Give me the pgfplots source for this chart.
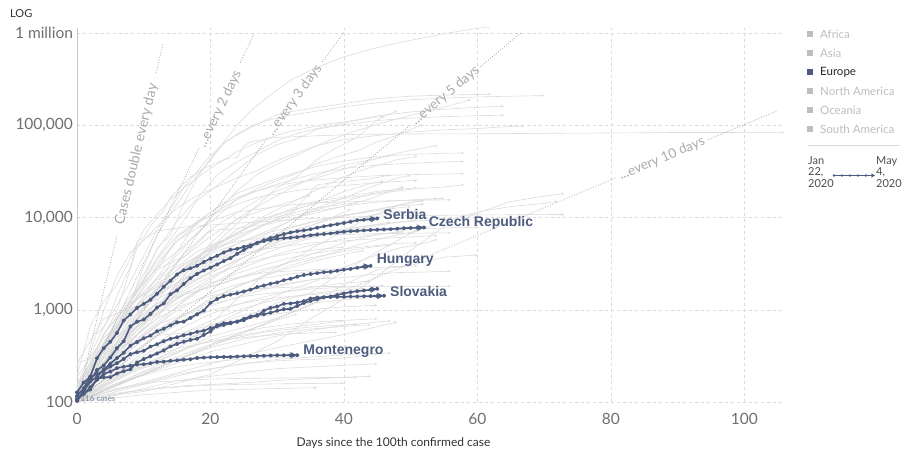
\documentclass[border=0pt]{standalone}
\usepackage{fontspec}
\setmainfont{Lato}
\newfontfamily\arialf{Liberation Sans}
\usepackage{pgfplots}
\pgfplotsset{compat=1.18}
\usetikzlibrary{arrows.meta}
\definecolor{eur}{RGB}{76,91,126}
\definecolor{gline}{RGB}{220,220,220}
\definecolor{gridc}{RGB}{218,218,218}
\definecolor{tickc}{RGB}{110,110,110}
\definecolor{dbl}{RGB}{170,170,170}
\definecolor{legc}{RGB}{190,190,190}
\pgfplotsset{
  gl/.style={gline, line width=0.6pt, no markers, line join=round, -{Stealth[length=3pt,width=2.6pt]}},
  hl/.style={eur, line width=1.6pt, mark=*, mark size=1.3pt, mark options={solid,fill=eur,draw=eur}, line join=round, -{Stealth[length=7pt,width=6.5pt]}},
  dl/.style={dbl, line width=0.7pt, dash pattern=on 1pt off 1.6pt, no markers},
}
\begin{document}
\begin{tikzpicture}
\useasboundingbox (0,0) rectangle (906pt,-452pt);
\begin{axis}[
  at={(77pt,-402pt)}, anchor=south west,
  scale only axis, width=708pt, height=374pt,
  ymode=log, xmin=0, xmax=106.1, ymin=100, ymax=1.14e6,
  axis line style={draw=none}, tick style={draw=none},
  xtick={0,20,40,60,80,100}, xticklabels={0,20,40,60,80,100},
  ytick={100,1000,10000,100000,1000000},
  yticklabels={100,{1,000},{10,000},{100,000},1 million},
  grid=major, major grid style={gridc, dash pattern=on 3pt off 3pt, line width=0.6pt},
  ticklabel style={font=\fontsize{15.5}{18}\selectfont, text=tickc},
  xticklabel style={yshift=-8pt},
  yticklabel style={xshift=-0.5pt},
]
\draw[gridc!80!gray, line width=0.8pt] (rel axis cs:0,0) -- (rel axis cs:0,1);
% ---------------- grey lines (other countries) ----------------
\addplot[gl] coordinates {(0,118)(2,213)(4,435)(6,704)(8,1281)(10,2179)(12,4663)(14,6421)(16,14250)(18,26800)(20,43734)(22,65778)(24,101657)(26,143055)(28,188172)(30,243453)(32,308850)(35,396223)(38,488000)(40,555313)(45,699706)(50,839675)(55,988197)(60,1131030)(62,1180375)};
\addplot[gl] coordinates {(0,120)(2,228)(4,374)(6,589)(8,1204)(10,2950)(12,6391)(14,11178)(16,17963)(18,28572)(20,42058)(22,64059)(24,78797)(26,94417)(28,112065)(30,130759)(32,140510)(35,152446)(40,172541)(45,195944)(50,207634)(55,213435)(60,216582)(62,218011)};
\addplot[gl] coordinates {(0,155)(2,322)(4,650)(6,1128)(8,2036)(10,3858)(12,7375)(14,12462)(16,21157)(18,31506)(20,47021)(22,63927)(24,80589)(26,97689)(28,110574)(30,119827)(32,128948)(35,139422)(40,159516)(45,175925)(50,189973)(55,197675)(60,203591)(65,207428)(70,210717)};
\addplot[gl] coordinates {(0,100)(3,212)(6,653)(9,1784)(12,4469)(15,9134)(18,16018)(21,29155)(24,40174)(27,52128)(30,68605)(33,82165)(36,92839)(40,106206)(45,127000)(50,140000)(55,150000)(60,157000)(64,162000)};
\addplot[gl] coordinates {(0,130)(3,262)(6,795)(9,1567)(12,3675)(15,7272)(18,15320)(21,22213)(24,32986)(27,48582)(30,61913)(33,71808)(36,91159)(40,102000)(45,113000)(50,120000)(55,124500)(60,127500)(64,129000)};
\addplot[gl] coordinates {(0,116)(3,206)(6,456)(9,1144)(12,1950)(15,3983)(18,6650)(21,11658)(24,19522)(27,29474)(30,38168)(33,47806)(36,60733)(40,78991)(45,103093)(50,129044)(55,158000)(59,190000)};
\addplot[gl] coordinates {(0,139)(3,388)(6,978)(9,4747)(12,8042)(15,12729)(18,17361)(21,21638)(24,27017)(27,32332)(30,41495)(33,50468)(36,60500)(40,70029)(45,77995)(50,84802)(55,89328)(60,92584)(64,96448)(67,98647)};
\addplot[gl] coordinates {(3,548)(4,643)(5,920)(6,1406)(7,2075)(8,2877)(9,5509)(10,6087)(11,8141)(12,9802)(13,11891)(14,16630)(15,19716)(16,23707)(17,27440)(18,30587)(19,34110)(20,36814)(21,39829)(22,42354)(23,44386)(24,44759)(25,59895)(26,66358)(27,68413)(28,70513)(30,74185)(32,75077)(37,77780)(42,79968)(51,80778)(61,81250)(72,82279)(82,82941)(89,83760)(102,83956)(106,83966)};
\addplot[gl] coordinates {(0,191)(2,670)(4,1236)(6,1872)(8,3629)(10,7402)(12,10827)(14,15679)(16,20921)(18,27069)(20,34109)(22,42282)(24,52167)(26,61049)(28,69392)(30,78546)(32,86306)(35,95591)(38,104912)(40,109302)(43,117589)(46,126045)};
\addplot[gl] coordinates {(0,114)(3,199)(6,367)(9,658)(12,1264)(15,2337)(18,3548)(21,5389)(24,8672)(27,13584)(30,21102)(33,27938)(36,42853)(39,57999)(42,74588)(45,114431)(48,145268)};
\addplot[gl] coordinates {(0,151)(3,291)(6,621)(9,1546)(12,2915)(15,4256)(18,6836)(21,10278)(24,15927)(27,20727)(30,25262)(33,30425)(36,38654)(39,45757)(42,52995)(45,66501)(48,78162)(51,97100)(52,101147)};
\addplot[gl] coordinates {(0,108)(4,252)(8,598)(12,1739)(16,4043)(20,7398)(24,11284)(28,17063)(32,22148)(36,27063)(40,33383)(44,41650)(48,50026)(52,57148)(54,60504)};
\addplot[gl] coordinates {(0,109)(3,267)(6,559)(9,1085)(12,2257)(15,4269)(18,9134)(21,12775)(24,18431)(27,22194)(30,26667)(33,31119)(36,36138)(40,40956)(45,46134)(50,48519)(55,49906)(58,50267)};
\addplot[gl] coordinates {(0,128)(3,265)(6,614)(9,1413)(12,2994)(15,5560)(18,8603)(21,11750)(24,15723)(27,19580)(30,23097)(33,26551)(36,30449)(40,34134)(45,37190)(50,38802)(55,40236)(58,40571)};
\addplot[gl] coordinates {(0,116)(3,337)(6,652)(9,1359)(12,2650)(15,6113)(18,8795)(21,12928)(24,16605)(27,19606)(30,22242)(33,24308)(36,25688)(40,27078)(45,28496)(50,29264)(55,29705)(58,30009)};
\addplot[gl] coordinates {(0,112)(3,331)(6,785)(9,1600)(12,3544)(15,6408)(18,9034)(21,11278)(24,13956)(27,16585)(30,18091)(33,19685)(36,20863)(40,22353)(45,23864)(50,25190)(51,25351)};
\addplot[gl] coordinates {(0,137)(3,326)(6,687)(9,1121)(12,1623)(15,2510)(18,3700)(21,4947)(24,6830)(27,9141)(30,10948)(33,12540)(36,14385)(40,16004)(45,18177)(50,20302)(55,21520)(58,22721)};
\addplot[gl] coordinates {(0,129)(3,292)(6,683)(9,1329)(12,2121)(15,2910)(18,4273)(21,5364)(24,6574)(27,8928)(30,10647)(33,13271)(36,15251)(40,16671)(45,19262)(50,20833)(51,21176)};
\addplot[gl] coordinates {(0,104)(3,246)(6,800)(9,1646)(12,3244)(15,5588)(18,7697)(21,9618)(24,11524)(27,12297)(30,13244)(33,13945)(36,14476)(40,14795)(45,15148)(50,15402)(56,15597)};
\addplot[gl] coordinates {(0,105)(5,170)(10,268)(15,455)(20,581)(25,814)(30,1193)(35,1532)(40,2617)(45,4257)(50,6748)(55,9167)(60,11512)(65,13182)(70,14281)(72,15057)};
\addplot[gl] coordinates {(0,104)(2,346)(4,977)(6,2337)(8,4212)(10,5766)(12,7134)(14,7513)(16,7869)(18,8162)(20,8320)(25,8799)(30,9241)(35,9786)(40,10062)(45,10384)(50,10512)(55,10613)(60,10683)(65,10738)(70,10793)(73,10806)};
\addplot[gl] coordinates {(0,100)(4,223)(8,499)(12,1024)(16,2069)(20,4421)(24,7447)(28,10363)(32,14378)(36,20080)(40,27892)(44,35043)(48,42533)(51,46437)};
\addplot[gl] coordinates {(0,117)(4,318)(8,635)(12,1065)(16,2281)(20,5256)(24,9784)(28,14420)(32,20914)(36,28699)(40,36976)(44,42534)(47,47372)};
\addplot[gl] coordinates {(0,118)(4,316)(8,993)(12,1688)(16,2785)(20,4219)(24,5847)(28,8261)(32,11633)(36,14677)(40,19224)(44,23471)(46,24905)};
\addplot[gl] coordinates {(0,103)(4,238)(8,562)(12,1012)(16,1720)(20,2605)(24,4462)(28,6380)(32,9362)(36,12772)(40,16299)(44,21402)(48,27011)(50,28656)};
\addplot[gl] coordinates {(0,187)(4,501)(8,887)(12,1526)(16,2708)(20,4035)(24,5230)(28,6919)(32,9216)(36,12227)(40,14885)(44,17986)(49,20941)};
\addplot[gl] coordinates {(0,155)(4,434)(8,1142)(12,1909)(16,3031)(20,4815)(24,6501)(28,8273)(32,9730)(36,11296)(40,13331)(44,16023)(48,20643)(49,22016)};
\addplot[gl] coordinates {(0,111)(4,532)(8,1403)(12,2758)(16,3747)(20,7257)(24,7603)(28,8450)(32,10850)(36,22719)(40,24675)(44,26336)(47,29071)};
\addplot[gl] coordinates {(0,152)(4,351)(8,1066)(12,2226)(16,3728)(20,6264)(24,9590)(28,12208)(32,14917)(35,17489)};
\addplot[gl] coordinates {(0,262)(4,337)(8,439)(12,526)(16,562)(20,693)(24,1325)(28,2376)(32,3428)(36,5008)(40,7141)(44,10287)(48,13409)(52,15551)(54,16191)};
\addplot[gl] coordinates {(0,102)(5,117)(10,130)(15,160)(20,200)(25,300)(30,455)(35,802)(40,1309)(45,2299)(50,4427)(55,8014)(60,11178)(65,14951)(70,17101)(73,18200)};
\addplot[gl] coordinates {(0,109)(4,193)(8,427)(12,1071)(16,2369)(20,4347)(24,6092)(28,8430)(32,10408)(36,11868)(40,13265)(44,14498)(48,15298)(52,15834)(55,16193)};
\addplot[gl] coordinates {(0,131)(4,260)(8,576)(12,1029)(16,2109)(20,3183)(24,4417)(28,5990)(32,7707)(36,9242)(40,10635)(44,11616)(48,12732)(50,13163)};
\addplot[gl] coordinates {(0,104)(4,251)(8,749)(12,1389)(16,2554)(20,3627)(24,5205)(28,6674)(32,7918)(36,9287)(40,10511)(44,11902)(48,13375)(52,14006)};
\addplot[gl] coordinates {(0,264)(4,801)(8,1044)(12,1303)(16,1877)(20,2577)(24,3386)(28,4875)(32,5996)(36,6876)(40,7515)(44,8210)(48,8851)(52,9311)(56,9670)};
\addplot[gl] coordinates {(0,108)(4,400)(8,996)(12,1423)(16,2132)(20,2906)(24,4015)(28,5370)(32,5865)(36,6320)(40,6740)(44,7156)(48,7401)(52,7599)(56,7759)(60,7847)};
\addplot[gl] coordinates {(0,155)(4,272)(8,450)(12,880)(16,1313)(20,1882)(24,2487)(28,3064)(32,3681)(36,4129)(40,4576)(44,4906)(48,5254)(51,5327)};
\addplot[gl] coordinates {(0,113)(4,311)(8,794)(12,1462)(16,2203)(20,3372)(24,4662)(28,5710)(32,7170)(36,8617)(40,11411)(41,12331)};
\addplot[gl] coordinates {(0,116)(4,274)(8,709)(12,1187)(16,1462)(20,1749)(24,2173)(28,2605)(32,3300)(36,4220)(40,5350)(44,6336)(49,7220)};
\addplot[gl] coordinates {(0,109)(4,196)(8,366)(12,609)(16,865)(20,1322)(24,1794)(28,2350)(32,3032)(36,3659)(40,4534)(44,5537)(48,6465)(51,7201)};
\addplot[gl] coordinates {(0,128)(4,266)(8,690)(12,1054)(16,1451)(20,1795)(24,2208)(28,2758)(32,3288)(36,3780)(40,4285)(44,4783)(47,5020)};
\addplot[gl] coordinates {(0,117)(4,369)(8,686)(12,1155)(16,1790)(20,2491)(24,3512)(28,4557)(32,6248)(36,7775)(40,9096)(44,10551)(48,11587)(51,11728)};
\addplot[gl] coordinates {(0,111)(4,217)(8,462)(12,803)(16,2084)(20,3018)(24,3870)(28,4648)(32,5453)(36,6459)(40,7192)(44,7958)(48,8928)(51,9485)};
\addplot[gl] coordinates {(0,112)(4,249)(8,709)(12,1709)(16,3166)(20,4559)(24,5548)(28,6052)(32,6303)(36,6447)(40,6565)(44,6667)(48,6731)(52,6801)(56,6825)};
\addplot[gl] coordinates {(0,114)(4,212)(8,599)(12,934)(16,1524)(20,1978)(24,2258)(28,2518)(32,2643)(36,2733)(40,2792)(44,2854)(48,2954)(51,2987)};
\addplot[gl] coordinates {(0,129)(4,553)(8,1183)(12,1796)(16,2626)(20,3333)(24,3963)(28,4530)(32,4987)(36,5389)(40,5603)(44,5851)(48,6071)(52,6298)(54,6353)};
\addplot[gl] coordinates {(0,117)(4,228)(8,418)(12,695)(16,892)(20,1212)(24,1544)(28,1735)(32,1955)(36,2170)(40,2235)(44,2408)(48,2534)(52,2566)(56,2626)};
\addplot[gl] coordinates {(0,117)(4,250)(8,473)(12,802)(16,1135)(20,1417)(24,1616)(28,1711)(32,1760)(36,1785)(40,1795)(44,1797)(48,1799)(56,1800)};
\addplot[gl] coordinates {(0,104)(4,176)(8,225)(12,289)(16,417)(20,665)(24,910)(28,1234)(32,1658)(36,2080)(40,2892)(44,3740)(48,4619)(52,5278)(54,5804)};
\addplot[gl] coordinates {(0,113)(4,198)(8,405)(12,664)(16,1264)(20,2076)(24,3360)(28,4933)(32,6781)(36,8756)(40,10349)(44,11929)(48,13599)(50,14730)(52,15192)};
\addplot[gl] coordinates {(0,109)(5,195)(10,241)(15,337)(20,515)(25,643)(30,811)(35,1136)(40,1881)(45,2723)(50,3040)(55,3720)(60,3934)};
\addplot[gl] coordinates {(0,104)(5,130)(10,160)(15,200)(20,230)(25,260)(30,280)(35,290)(40,300)(45,330)};
\addplot[gl] coordinates {(0,100)(5,115)(10,140)(15,170)(20,190)(25,210)(30,230)(35,240)(40,250)(45,260)};
\addplot[gl] coordinates {(0,105)(10,165)(20,260)(30,390)(40,540)(48,740)};
\addplot[gl] coordinates {(0,110)(10,200)(20,350)(30,520)(40,680)(47,760)};
\addplot[gl] coordinates {(0,101)(8,130)(16,150)(24,160)(32,175)(40,185)(44,190)};
\addplot[gl] coordinates {(0,102)(5,170)(10,290)(15,470)(20,680)(25,880)(30,1050)(35,1180)(40,1280)(45,1380)};
\addplot[gl] coordinates {(0,100)(5,180)(10,350)(15,600)(20,900)(25,1200)(30,1500)(35,1750)(40,1950)(44,2050)};
\addplot[gl] coordinates {(0,120)(5,230)(10,420)(15,720)(20,1100)(25,1450)(30,1800)(35,2100)(38,2250)};
\addplot[gl] coordinates {(0,100)(4,150)(8,210)(12,260)(16,290)(20,310)(24,320)(28,325)(32,330)};
\addplot[gl] coordinates {(0,110)(5,250)(10,480)(15,800)(20,1150)(25,1400)(30,1550)(35,1680)(40,1760)(46,1830)};
\addplot[gl] coordinates {(0,100)(5,200)(10,420)(15,780)(20,1300)(25,1900)(30,2600)(35,3300)(40,4000)(43,4400)};
\addplot[gl] coordinates {(0,100)(6,180)(12,300)(18,420)(24,520)(30,620)(36,700)(40,760)};
\addplot[gl] coordinates {(0,115)(5,190)(10,290)(15,380)(20,450)(25,500)(30,540)(35,560)(39,570)};
\addplot[gl] coordinates {(0,100)(10,120)(20,135)(30,140)(36,143)};
\addplot[gl] coordinates {(0,100)(5,140)(10,200)(15,290)(20,420)(25,580)(30,780)(33,900)};
\addplot[gl] coordinates {(0,130)(5,320)(10,700)(15,1300)(20,2200)(25,3300)(30,4600)(35,6000)(40,7400)(45,8500)(47,9000)};
\addplot[gl] coordinates {(0,102)(6,140)(12,165)(18,175)(24,180)(30,182)(42,186)};
\addplot[gl] coordinates {(0,106)(6,125)(12,140)(18,150)(24,155)(32,158)(40,160)};
\addplot[gl] coordinates {(0,108)(4,190)(8,330)(12,520)(16,760)(20,980)(24,1150)(28,1300)(32,1400)(36,1480)(41,1560)};
\addplot[gl] coordinates {(0,100)(4,135)(8,185)(12,250)(16,330)(20,420)(24,500)(28,570)(32,620)(36,660)(42,700)};
\addplot[gl] coordinates {(0,112)(3,180)(6,290)(9,460)(12,690)(15,980)(18,1290)(21,1600)(24,1880)(28,2200)(32,2450)(36,2650)(40,2800)(44,2900)};
\addplot[gl] coordinates {(0,104)(4,160)(8,240)(12,350)(16,480)(20,610)(24,740)(28,860)(32,950)(36,1020)(40,1080)(45,1120)};
\addplot[gl] coordinates {(0,118)(3,210)(6,380)(9,640)(12,1000)(15,1450)(18,1950)(21,2500)(24,3000)(28,3600)(32,4100)(36,4500)(40,4800)};
\addplot[gl] coordinates {(0,101)(4,145)(8,205)(12,280)(16,370)(20,470)(24,560)(28,640)(32,700)(36,740)(40,770)(45,800)};
\addplot[gl] coordinates {(0,115)(5,260)(10,560)(15,1100)(20,1900)(25,2900)(30,4000)(35,5000)(40,5900)(45,6600)(49,7000)};
\addplot[gl] coordinates {(0,100)(3,125)(6,155)(9,185)(12,215)(15,240)(18,260)(21,275)(24,290)(28,300)(33,310)};
\addplot[gl] coordinates {(0,126)(3,240)(6,450)(9,820)(12,1450)(15,2400)(18,3700)(21,5200)(24,6900)(27,8600)(30,10200)(34,12000)(38,13400)(42,14500)};
\addplot[gl] coordinates {(0,103)(5,150)(10,210)(15,290)(20,390)(25,480)(30,560)(35,620)(40,660)(44,690)};
\addplot[gl] coordinates {(0,108)(4,170)(8,260)(12,390)(16,560)(20,760)(24,980)(28,1200)(32,1380)(36,1530)(40,1640)(43,1700)};
\addplot[gl] coordinates {(0,100)(6,130)(12,170)(18,215)(24,255)(30,290)(36,310)(42,330)(47,340)};
% ---------------- doubling lines ----------------
\addplot[dl] coordinates {(0,100)(6,6400)};
\addplot[dl] coordinates {(11.85,369000)(12.9,764000)};
\addplot[dl] coordinates {(0,100)(18.3,56800)};
\addplot[dl] coordinates {(24.45,478000)(26.6,1010000)};
\addplot[dl] coordinates {(0,100)(28.5,72700)};
\addplot[dl] coordinates {(36.75,488000)(40.0,1024000)};
\addplot[dl] coordinates {(0,100)(50,101000)};
\addplot[dl] coordinates {(60.4,431000)(66.6,1020000)};
\addplot[dl] coordinates {(0,100)(80.7,26900)};
\addplot[dl] coordinates {(94.6,70500)(105,145000)};
\node[rotate=76.5, text=dbl, font=\fontsize{14}{16}\selectfont, inner sep=0pt] at (axis cs:8.93,48800) {Cases double every day};
\node[rotate=64.3, text=dbl, font=\fontsize{13.5}{16}\selectfont, inner sep=0pt] at (axis cs:21.4,150000) {...every 2 days};
\node[rotate=54.2, text=dbl, font=\fontsize{13.5}{16}\selectfont, inner sep=0pt] at (axis cs:32.6,188000) {...every 3 days};
\node[rotate=39.8, text=dbl, font=\fontsize{13.5}{16}\selectfont, inner sep=0pt] at (axis cs:55.2,210000) {...every 5 days};
\node[rotate=22.6, text=dbl, font=\fontsize{13.5}{16}\selectfont, inner sep=0pt] at (axis cs:87.65,43500) {...every 10 days};
% ---------------- highlighted (Europe) ----------------
% Montenegro
\addplot[hl] coordinates {(0,109)(1,123)(2,145)(3,174)(4,201)(5,214)(6,233)(7,241)(8,248)(9,255)(10,257)(11,263)(12,272)(13,274)(14,280)(15,283)(16,288)(17,291)(18,300)(19,303)(20,306)(21,307)(22,308)(23,308)(24,311)(25,313)(26,315)(27,316)(28,317)(29,319)(30,321)(31,321)(32,322)(33,322)};
% Bulgaria
\addplot[hl] coordinates {(0,127)(1,163)(2,187)(3,201)(4,218)(5,242)(6,264)(7,293)(8,331)(9,346)(10,359)(11,399)(12,422)(13,457)(14,485)(15,503)(16,531)(17,549)(18,577)(19,593)(20,635)(21,661)(22,685)(23,713)(24,747)(25,800)(26,846)(27,878)(28,894)(29,929)(30,975)(31,1015)(32,1024)(33,1097)(34,1188)(35,1247)(36,1300)(37,1363)(38,1399)(39,1447)(40,1506)(41,1555)(42,1594)(43,1618)(44,1652)(45,1689)};
% Slovakia
\addplot[hl] coordinates {(0,105)(1,123)(2,137)(3,178)(4,185)(5,186)(6,204)(7,216)(8,226)(9,269)(10,292)(11,314)(12,336)(13,363)(14,400)(15,426)(16,450)(17,471)(18,485)(19,534)(20,581)(21,682)(22,715)(23,728)(24,742)(25,769)(26,835)(27,863)(28,977)(29,1049)(30,1089)(31,1161)(32,1173)(33,1199)(34,1244)(35,1325)(36,1360)(37,1373)(38,1379)(39,1381)(40,1384)(41,1391)(42,1396)(43,1403)(44,1408)(45,1413)(46,1421)};
% Hungary
\addplot[hl] coordinates {(0,103)(1,131)(2,167)(3,187)(4,226)(5,261)(6,300)(7,343)(8,408)(9,447)(10,492)(11,525)(12,585)(13,623)(14,678)(15,733)(16,744)(17,817)(18,895)(19,980)(20,1190)(21,1310)(22,1410)(23,1458)(24,1512)(25,1579)(26,1652)(27,1763)(28,1834)(29,1916)(30,1984)(31,2098)(32,2168)(33,2284)(34,2383)(35,2443)(36,2500)(37,2559)(38,2583)(39,2649)(40,2727)(41,2775)(42,2863)(43,2942)(44,2998)};
% Serbia
\addplot[hl] coordinates {(0,103)(1,135)(2,171)(3,222)(4,249)(5,303)(6,384)(7,457)(8,659)(9,741)(10,785)(11,900)(12,1060)(13,1171)(14,1476)(15,1624)(16,1908)(17,2200)(18,2447)(19,2666)(20,2867)(21,3105)(22,3380)(23,3630)(24,4054)(25,4465)(26,4873)(27,5318)(28,5690)(29,5994)(30,6318)(31,6630)(32,6890)(33,7114)(34,7276)(35,7483)(36,7779)(37,8042)(38,8275)(39,8497)(40,8724)(41,9009)(42,9362)(43,9464)(44,9605)(45,9791)};
% Czech Republic
\addplot[hl] coordinates {(0,116)(1,141)(2,189)(3,298)(4,383)(5,450)(6,560)(7,765)(8,889)(9,1047)(10,1161)(11,1287)(12,1497)(13,1775)(14,2062)(15,2422)(16,2689)(17,2817)(18,3001)(19,3308)(20,3589)(21,3858)(22,4190)(23,4472)(24,4587)(25,4822)(26,5017)(27,5312)(28,5569)(29,5732)(30,5902)(31,5991)(32,6059)(33,6141)(34,6303)(35,6433)(36,6549)(37,6654)(38,6746)(39,6900)(40,7033)(41,7132)(42,7187)(43,7273)(44,7352)(45,7404)(46,7445)(47,7504)(48,7579)(49,7682)(50,7737)(51,7755)(52,7819)};
% labels
\begin{scope}[every node/.style={anchor=west, inner sep=0pt, text=eur, font=\arialf\bfseries\fontsize{14}{16}\selectfont}]
\node at (axis cs:45.9,10700) {Serbia};
\node at (axis cs:52.7,8800) {Czech Republic};
\node at (axis cs:44.9,3470) {Hungary};
\node at (axis cs:46.9,1570) {Slovakia};
\node at (axis cs:33.9,357) {Montenegro};
\end{scope}
\node[anchor=west, inner sep=0pt, text=eur!75, font=\fontsize{8}{9}\selectfont] at (axis cs:0.5,110) {116 cases};
\end{axis}
% ---------------- outer texts ----------------
\node[anchor=west, inner sep=0pt, text=black!80, font=\fontsize{11}{13}\selectfont] at (10pt,-14pt) {LOG};
\node[inner sep=0pt, text=black!80, font=\fontsize{12}{14}\selectfont] at (393.5pt,-443pt) {Days since the 100th confirmed case};
% legend
\begin{scope}[every node/.style={anchor=west, inner sep=0pt, font=\fontsize{11.5}{13}\selectfont}]
\fill[legc] (807pt,-31.5pt) rectangle (812.5pt,-37pt);
\node[text=legc] at (820pt,-34pt) {Africa};
\fill[legc] (807pt,-50.5pt) rectangle (812.5pt,-56pt);
\node[text=legc] at (820pt,-53pt) {Asia};
\fill[eur] (807pt,-69.5pt) rectangle (812.5pt,-75pt);
\node[text=black!85] at (820pt,-72pt) {Europe};
\fill[legc] (807pt,-88.5pt) rectangle (812.5pt,-94pt);
\node[text=legc] at (820pt,-91pt) {North America};
\fill[legc] (807pt,-107.5pt) rectangle (812.5pt,-113pt);
\node[text=legc] at (820pt,-110pt) {Oceania};
\fill[legc] (807pt,-126.5pt) rectangle (812.5pt,-132pt);
\node[text=legc] at (820pt,-129pt) {South America};
\draw[black!15, line width=1pt] (808pt,-145pt) -- (900pt,-145pt);
\node[text=black!70, align=left, font=\fontsize{11}{11.5}\selectfont, anchor=north west] at (808pt,-156pt) {Jan\\22,\\2020};
\node[text=black!70, align=left, font=\fontsize{11}{11.5}\selectfont, anchor=north west] at (876pt,-156pt) {May\\4,\\2020};
\draw[eur, line width=0.9pt, -{Stealth[length=4pt,width=4pt]}] (833pt,-175.5pt) -- (875pt,-175.5pt);
\foreach \xx in {834,842,850,858,866} \fill[eur] (\xx pt,-175.5pt) circle (1.3pt);
\end{scope}
\end{tikzpicture}
\end{document}
